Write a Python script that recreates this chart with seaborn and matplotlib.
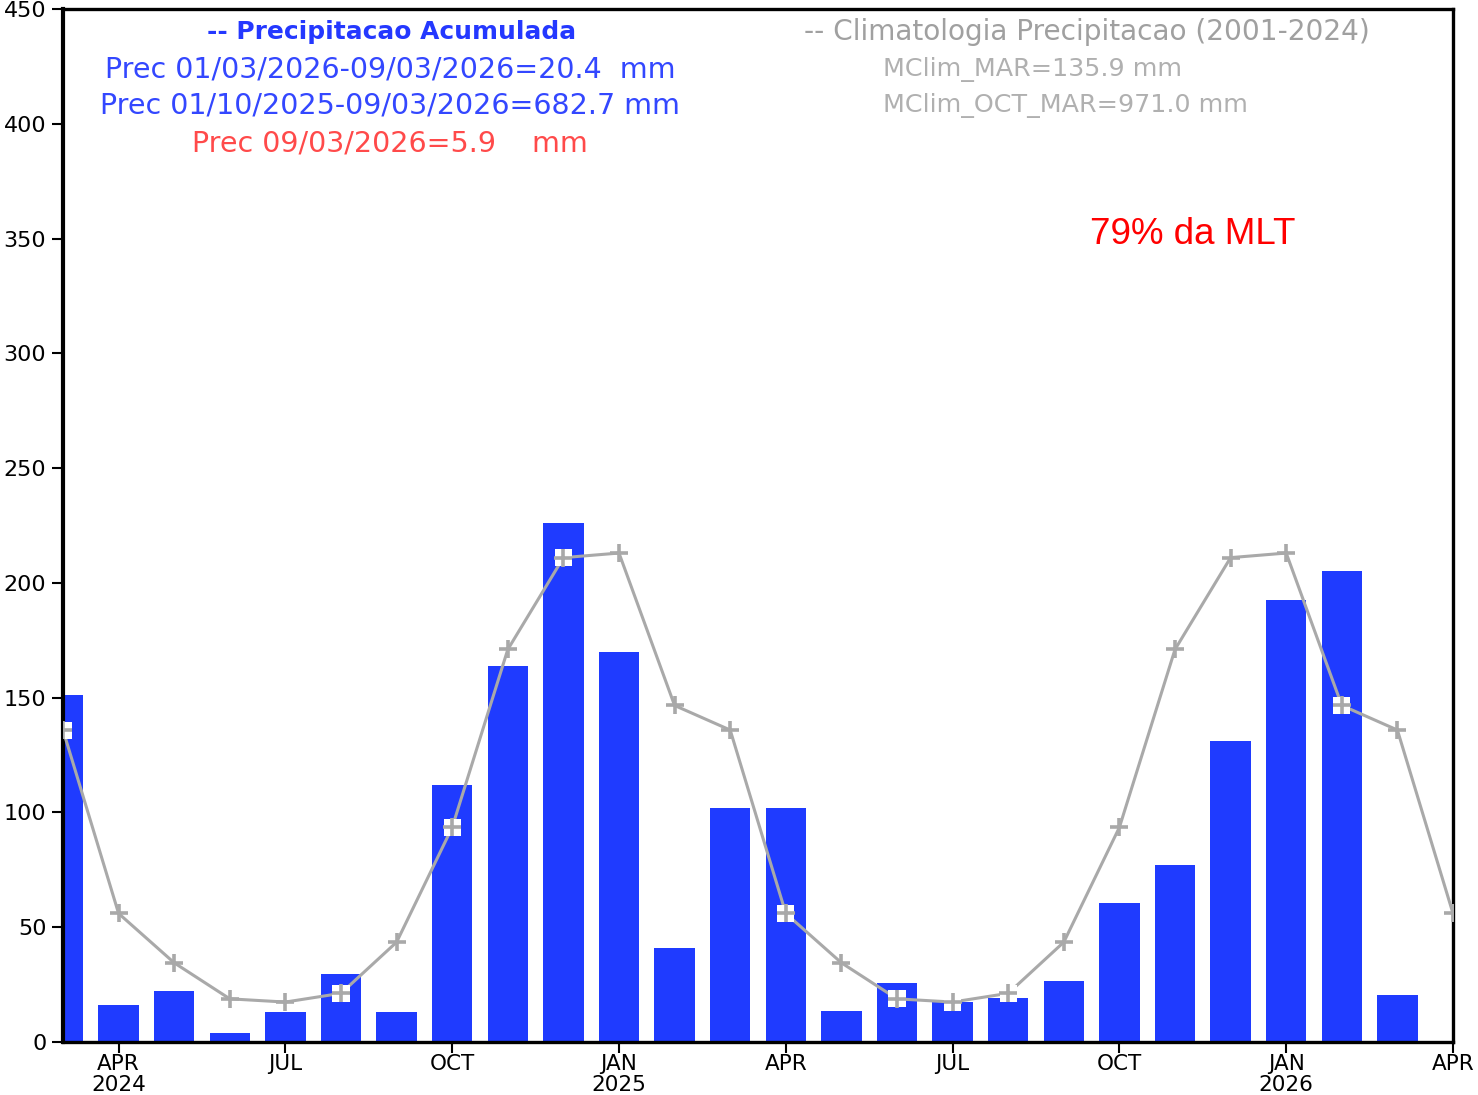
import numpy as np
import pandas as pd
import matplotlib
matplotlib.use("Agg")
import matplotlib.pyplot as plt
import seaborn as sns

# ---------------- data ----------------
months = ["2024-03", "2024-04", "2024-05", "2024-06", "2024-07", "2024-08", "2024-09",
          "2024-10", "2024-11", "2024-12", "2025-01", "2025-02", "2025-03", "2025-04",
          "2025-05", "2025-06", "2025-07", "2025-08", "2025-09", "2025-10", "2025-11",
          "2025-12", "2026-01", "2026-02", "2026-03"]
precip = [151, 16, 22, 4, 13, 29.5, 13, 112, 164, 226, 170, 41, 102, 102,
          13.5, 25.5, 17.5, 19, 26.5, 60.5, 77, 131, 192.5, 205, 20.4]

clim_months = months + ["2026-04"]
clim = [135.9, 56, 34.5, 18.8, 17.4, 21.2, 43.5, 93.5, 171, 211, 213, 146.6,
        135.9, 56, 34.5, 18.8, 17.4, 21.2, 43.5, 93.5, 171, 211, 213, 146.6,
        135.9, 56]
# points where the climatology marker sits on a white box
boxed = ["2024-03", "2024-08", "2024-10", "2024-12", "2025-04", "2025-06",
         "2025-07", "2025-08", "2026-02"]

tick_months = ["2024-04", "2024-07", "2024-10", "2025-01", "2025-04", "2025-07",
               "2025-10", "2026-01", "2026-04"]
tick_labels = ["APR\n2024", "JUL", "OCT", "JAN\n2025", "APR", "JUL", "OCT",
               "JAN\n2026", "APR"]
yticks = [0, 50, 100, 150, 200, 250, 300, 350, 400, 450]

blue_title = "-- Precipitacao Acumulada"
blue_lines = ["Prec 01/03/2026-09/03/2026=20.4  mm",
              "Prec 01/10/2025-09/03/2026=682.7 mm"]
red_line = "Prec 09/03/2026=5.9    mm"
gray_title = "-- Climatologia Precipitacao (2001-2024)"
gray_lines = ["MClim_MAR=135.9 mm", "MClim_OCT_MAR=971.0 mm"]
mlt_text = "79% da MLT"

# ---------------- figure ----------------
sns.set_style("white")
plt.rcParams["font.family"] = ["DejaVu Sans"]

W, H = 1478, 1095
fig = plt.figure(figsize=(W / 100, H / 100), dpi=100)
ax = fig.add_axes([63 / W, 1 - 1042 / H, (1453 - 63) / W, (1042 - 9) / H])

pos = {m: i for i, m in enumerate(clim_months)}
df_bar = pd.DataFrame({"x": [pos[m] for m in months], "y": precip})
df_line = pd.DataFrame({"x": [pos[m] for m in clim_months], "y": clim})

BAR = "#1f3bff"
GRAY = "#a9a9a9"

sns.barplot(data=df_bar, x="x", y="y", native_scale=True, color=BAR,
            saturation=1, width=0.73, errorbar=None, ax=ax, zorder=2,
            edgecolor="none")
sns.lineplot(data=df_line, x="x", y="y", color=GRAY, lw=2.2, ax=ax, zorder=3)
bx = df_line[df_line["x"].isin([pos[m] for m in boxed])]
ax.scatter(bx["x"], bx["y"], marker="s", s=150, color="white", zorder=4,
           edgecolors="none")
ax.scatter(df_line["x"], df_line["y"], marker="+", s=150, color=GRAY,
           linewidths=2.6, zorder=5)

ax.set_xlim(0, len(clim_months) - 1)
ax.set_ylim(0, 450)
ax.set_yticks(yticks)
ax.set_xticks([pos[m] for m in tick_months])
ax.set_xticklabels(tick_labels, fontsize=15.5, linespacing=1.05, color="black")
ax.set_yticklabels([str(v) for v in yticks], fontsize=16, color="black")
ax.set_xlabel("")
ax.set_ylabel("")
ax.tick_params(axis="both", direction="out", length=8, width=1.5, color="black",
               bottom=True, left=True)
ax.tick_params(axis="x", pad=1)
ax.tick_params(axis="y", pad=4)
for s in ax.spines.values():
    s.set_visible(True)
    s.set_color("black")
    s.set_linewidth(2.4)
ax.spines["left"].set_linewidth(3.0)
ax.grid(False)


def ft(px, py, s, **kw):
    fig.text(px / W, 1 - py / H, s, va="center", **kw)


ft(392, 32, blue_title, color="#2438ff", fontsize=17.9, fontweight="bold", ha="center")
ft(390, 69, blue_lines[0], color="#3347ff", fontsize=20.5, ha="center")
ft(390, 106, blue_lines[1], color="#3347ff", fontsize=20.5, ha="center")
ft(390, 143, red_line, color="#ff4a4a", fontsize=20.5, ha="center")
ft(1087, 32, gray_title, color="#a0a0a0", fontsize=20.2, ha="center")
ft(883, 69, gray_lines[0], color="#b0b0b0", fontsize=18.3, ha="left")
ft(883, 106, gray_lines[1], color="#b0b0b0", fontsize=18.3, ha="left")
ft(1193, 234, mlt_text, color="#ff0000", fontsize=26.5, ha="center",
   family=["Liberation Sans", "DejaVu Sans"])

fig.savefig("out.png", dpi=100, facecolor="white")
